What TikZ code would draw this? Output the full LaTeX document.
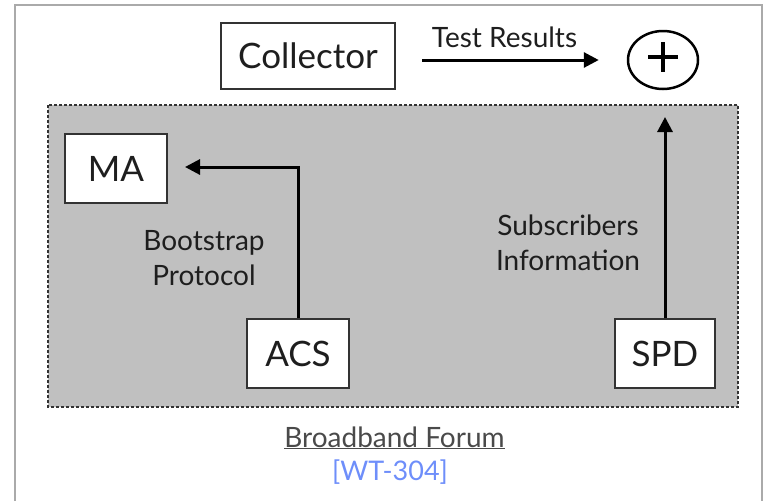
\documentclass[tikz,border=0pt]{standalone}
\usepackage{fontspec}
\setmainfont{Lato}
\usetikzlibrary{arrows.meta,shapes.geometric}
\definecolor{bgray}{HTML}{C0C0C0}
\definecolor{frame}{HTML}{AAAAAA}
\definecolor{ink}{HTML}{1E1E1E}
\definecolor{boxline}{HTML}{333333}
\definecolor{linkblue}{HTML}{6E8EFA}
\definecolor{foot}{HTML}{4A4A4A}
\tikzset{
  box/.style={draw=boxline,line width=2pt,fill=white,inner sep=0pt,text=ink,font=\fontsize{35}{40}\selectfont},
  arr/.style={draw=black,line width=3pt,-{Triangle[length=15pt,width=15pt]}},
  lbl/.style={text=ink,font=\fontsize{28}{33}\selectfont,inner sep=0pt,align=center}
}
\begin{document}
\begin{tikzpicture}[x=1pt,y=-1pt]
\useasboundingbox (0,0) rectangle (765,501);
% outer frame (open at bottom)
\draw[frame,line width=2pt] (15,501) -- (15,5) -- (762,5) -- (762,501);
% gray region
\draw[fill=bgray,draw=boxline,line width=1.5pt,dash pattern=on 3pt off 2pt] (48,105) rectangle (738,407);
% nodes
\node[box,minimum width=174pt,minimum height=66pt] (collector) at (308,56) {Collector};
\node[draw=black,line width=2.5pt,ellipse,minimum width=70pt,minimum height=58pt,inner sep=0pt] (plus) at (663,60) {};
\draw[line width=4.5pt] (648,57) -- (678,57) (663,42) -- (663,72);
\node[box,minimum width=102pt,minimum height=69pt] (ma) at (116,168.5) {MA};
\node[box,minimum width=102pt,minimum height=69pt] (acs) at (298,353.5) {ACS};
\node[box,minimum width=100pt,minimum height=69pt] (spd) at (665,353.5) {SPD};
\coordinate (spdtip) at (665,117);
% connectors
\draw[arr] ([shift={(26,4)}]collector.east) -- ([xshift=-28]plus.west);
\draw[arr] (acs.north) |- ([xshift=17,yshift=1.5]ma.east);
\draw[arr] (spd.north) -- (spdtip);
% labels
\node[lbl,anchor=base] (tr) at (504.5,47) {Test Results};
\node[lbl,anchor=base] (bp) at (204,285) {Bootstrap\\[2pt]Protocol};
\node[lbl,anchor=base] (si) at (568,270) {Subscribers\\[2pt]Information};
\node[text=foot,font=\fontsize{28}{32}\selectfont,inner sep=0pt,anchor=base] (bf) at (394.5,447) {\underline{Broadband Forum}};
\node[text=linkblue,font=\fontsize{27}{32}\selectfont,inner sep=0pt,anchor=base] (wt) at (390,480) {[WT-304]};
\end{tikzpicture}
\end{document}
